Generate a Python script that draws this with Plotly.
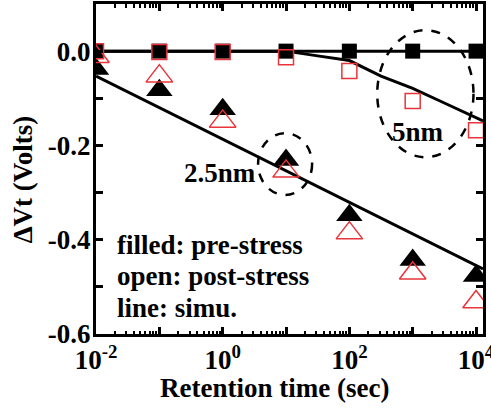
import plotly.graph_objects as go
import numpy as np

# ---- data ----
t = [1e-2, 1e-1, 1e0, 1e1, 1e2, 1e3, 1e4]

sq_pre = [0.0, 0.0, 0.0, 0.0, 0.0, 0.0, 0.0]          # 5nm filled
sq_post = [0.0, -0.002, -0.002, -0.013, -0.042, -0.106, -0.168]   # 5nm open
tri_pre = [-0.038, -0.083, -0.123, -0.231, -0.348, -0.443, -0.477]  # 2.5nm filled
tri_post = [-0.012, -0.053, -0.149, -0.255, -0.386, -0.471, -0.532]  # 2.5nm open

sim5_pre_t = [1e-2, 1.3e4]
sim5_pre_v = [0.0, 0.0]
sim5_post_t = [1e-2, 1e0, 1e1, 10**1.5, 1e2, 10**2.5, 1e3, 10**3.5, 1e4, 10**4.11]
sim5_post_v = [0.0, 0.0, 0.0, -0.01, -0.02, -0.053, -0.079, -0.11, -0.14, -0.148]
sim25_t = [1e-2, 1e-1, 1e0, 1e1, 1e2, 1e3, 1e4, 10**4.11]
sim25_v = [-0.053, -0.12, -0.186, -0.253, -0.32, -0.387, -0.455, -0.462]

x_tickvals = [1e-2, 1e-1, 1e0, 1e1, 1e2, 1e3, 1e4]
x_ticktext = ["10<sup>-2</sup>", "", "10<sup>0</sup>", "", "10<sup>2</sup>", "", "10<sup>4</sup>"]
y_tickvals = [0.0, -0.2, -0.4, -0.6]
y_ticktext = ["0.0", "-0.2", "-0.4", "-0.6"]
y_minor = [-0.1, -0.3, -0.5]

legend_lines = ["filled: pre-stress", "open: post-stress", "line: simu."]
legend_y = [-0.411, -0.477, -0.545]

RED = "#e8343a"
FONT = "Liberation Serif"

fig = go.Figure()
line_style = dict(color="black", width=3)
fig.add_trace(go.Scatter(x=sim5_pre_t, y=sim5_pre_v, mode="lines", line=line_style))
fig.add_trace(go.Scatter(x=sim5_post_t, y=sim5_post_v, mode="lines", line=line_style))
fig.add_trace(go.Scatter(x=sim25_t, y=sim25_v, mode="lines", line=line_style))

fig.add_trace(go.Scatter(x=t, y=sq_pre, mode="markers",
                         marker=dict(symbol="square", size=15, color="black")))
fig.add_trace(go.Scatter(x=t, y=tri_pre, mode="markers",
                         marker=dict(symbol="triangle-up", size=23, color="black")))
fig.add_trace(go.Scatter(x=t, y=sq_post, mode="markers",
                         marker=dict(symbol="square-open", size=15, color=RED,
                                     line=dict(width=1.5, color=RED))))
fig.add_trace(go.Scatter(x=t, y=tri_post, mode="markers",
                         marker=dict(symbol="triangle-up-open", size=23, color=RED,
                                     line=dict(width=1.5, color=RED))))

# dashed ellipses
fig.add_shape(type="circle", xref="x", yref="y", x0=10**0.559, x1=10**1.412,
              y0=-0.305, y1=-0.174, line=dict(color="black", width=2.5, dash="dash"))
fig.add_shape(type="circle", xref="x", yref="y", x0=10**2.44, x1=10**3.96,
              y0=-0.225, y1=0.0445, line=dict(color="black", width=2.5, dash="dash"))

bold = dict(family=FONT, size=27, color="black", weight="bold")
fig.add_annotation(x=3.09, y=-0.172, text="5nm", showarrow=False, font=bold)
fig.add_annotation(x=-0.04, y=-0.259, text="2.5nm", showarrow=False, font=bold)
for txt, yy in zip(legend_lines, legend_y):
    fig.add_annotation(x=-1.7, y=yy, text=txt, showarrow=False, xanchor="left",
                       yanchor="middle", font=bold)

fig.add_annotation(xref="paper", yref="paper", x=-0.19, y=0.47, xanchor="center",
                   yanchor="middle", text="ΔVt (Volts)", textangle=-90,
                   showarrow=False, font=bold)
fig.add_annotation(xref="paper", yref="paper", x=0.4625, y=-0.164, xanchor="center",
                   yanchor="middle", text="Retention time (sec)",
                   showarrow=False, font=bold)

fig.update_xaxes(type="log", range=[-2, 4.11], tickmode="array", tickvals=x_tickvals,
                 ticktext=x_ticktext, ticks="inside", ticklen=7, tickwidth=2.5,
                 tickcolor="black", showline=True, linewidth=3, linecolor="black",
                 mirror="ticks", showgrid=False, zeroline=False, automargin=False,
                 tickfont=bold, ticklabeloverflow="allow",
                 minor=dict(tickvals=[m * 10**d for d in range(-2, 4) for m in range(2, 10)],
                            ticks="inside", ticklen=3.5, tickwidth=1.5, tickcolor="black",
                            showgrid=False))
fig.update_yaxes(range=[-0.6, 0.1], tickmode="array", tickvals=y_tickvals,
                 ticktext=y_ticktext, ticks="inside", ticklen=7, tickwidth=2.5,
                 tickcolor="black", showline=True, linewidth=3, linecolor="black",
                 mirror="ticks", showgrid=False, zeroline=False, tickfont=bold,
                 automargin=False, ticklabelstandoff=-3,
                 minor=dict(tickvals=y_minor, ticks="inside", ticklen=7, tickwidth=2.5,
                            tickcolor="black", showgrid=False))

fig.update_layout(width=491, height=409, margin=dict(l=96, r=8, t=4, b=75),
                  showlegend=False, plot_bgcolor="white", paper_bgcolor="white",
                  font=dict(family=FONT))
fig.write_html("out.html")
